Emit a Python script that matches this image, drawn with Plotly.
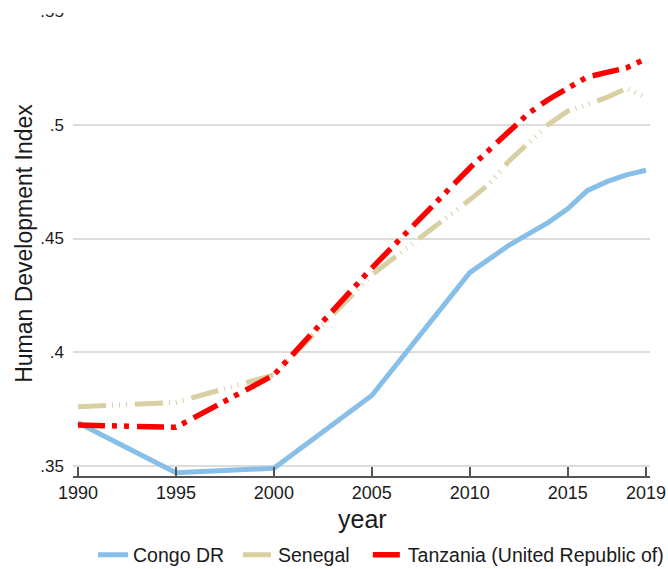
import plotly.graph_objects as go

years = [1990, 1995, 2000, 2005, 2010, 2011, 2012, 2013, 2014, 2015, 2016, 2017, 2018, 2019]
congo = [0.369, 0.347, 0.349, 0.381, 0.435, 0.441, 0.447, 0.452, 0.457, 0.463, 0.471, 0.475, 0.478, 0.480]
senegal = [0.376, 0.378, 0.390, 0.434, 0.467, 0.474, 0.484, 0.492, 0.500, 0.506, 0.509, 0.512, 0.516, 0.512]
tanzania = [0.368, 0.367, 0.390, 0.437, 0.481, 0.489, 0.497, 0.505, 0.511, 0.516, 0.521, 0.523, 0.525, 0.529]

x_ticks = [1990, 1995, 2000, 2005, 2010, 2015, 2019]
y_ticks = [0.35, 0.40, 0.45, 0.50, 0.55]
y_labels = [".35", ".4", ".45", ".5", ".55"]

FONT = "Liberation Sans, Arial, sans-serif"
TXT = "#1a1a1a"

fig = go.Figure()
fig.add_trace(go.Scatter(x=years, y=congo, mode="lines", name="Congo DR", legend="legend",
                         line=dict(color="#87BFE8", width=5)))
fig.add_trace(go.Scatter(x=years, y=senegal, mode="lines", name="Senegal", legend="legend2",
                         line=dict(color="#D8CFA2", width=5,
                                   dash="28px,6px,1px,6px,1px,6px,1px,8px")))
fig.add_trace(go.Scatter(x=years, y=tanzania, mode="lines", name="Tanzania (United Republic of)",
                         legend="legend3",
                         line=dict(color="#FF0000", width=5.5,
                                   dash="27px,7px,5px,7px,5px,8px")))

def leg(xpos):
    return dict(orientation="h", x=xpos, xanchor="left", y=-0.17, yanchor="middle",
                font=dict(size=19.5, family=FONT, color=TXT),
                bgcolor="rgba(0,0,0,0)", itemwidth=30)

fig.update_layout(
    template="none",
    width=668, height=569,
    margin=dict(l=73, r=18, t=11, b=93, autoexpand=False),
    paper_bgcolor="white", plot_bgcolor="white",
    font=dict(family=FONT, color=TXT),
    showlegend=True,
    legend=leg(0.0347), legend2=leg(0.286), legend3=leg(0.511),
    xaxis=dict(range=[1989.745, 2019.204], tickmode="array", tickvals=x_ticks,
               ticktext=[str(v) for v in x_ticks], automargin=False,
               showgrid=False, zeroline=False,
               showline=True, linecolor="#555555", linewidth=1.5,
               ticks="inside", ticklen=9, tickcolor="#555555", tickwidth=1.5,
               tickfont=dict(size=18, family=FONT, color=TXT)),
    yaxis=dict(range=[0.3456, 0.55], tickmode="array", tickvals=y_ticks, ticktext=y_labels,
               automargin=False,
               showgrid=True, gridcolor="#DCDCDC", gridwidth=1.5, zeroline=False,
               showline=False, ticks="", ticklabelstandoff=8,
               tickfont=dict(size=17, family=FONT, color=TXT),
               title=dict(text="Human Development Index",
                          font=dict(size=23, family=FONT, color=TXT), standoff=1)),
    annotations=[dict(text="year", xref="paper", yref="paper", x=(362 - 73) / 577,
                      y=-(519 - 476) / 465, xanchor="center", yanchor="middle",
                      showarrow=False, font=dict(size=25, family=FONT, color=TXT))],
    shapes=[dict(type="rect", xref="paper", yref="paper",
                 x0=-0.13, x1=0.4315, y0=0.9957, y1=1.03,
                 fillcolor="white", line=dict(width=0), layer="above")],
)

fig.write_html("out.html", config={"displayModeBar": False},
               post_script="document.body.style.margin='0';")
